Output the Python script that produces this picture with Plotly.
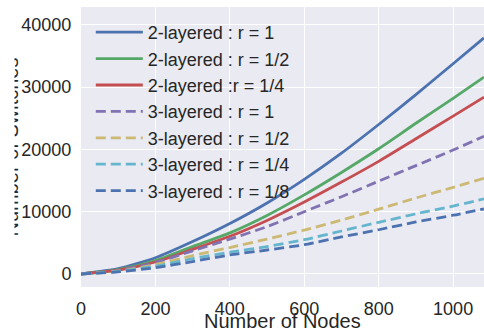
import plotly.graph_objects as go

nodes = [0, 100, 200, 300, 400, 500, 600, 700, 800, 900, 1000, 1083]

two_r1 = [0, 850, 2600, 5200, 8100, 11400, 15200, 19400, 24000, 28800, 33750, 37900]
two_r2 = [0, 680, 2150, 4400, 6600, 9400, 12700, 16300, 20100, 24200, 28200, 31600]
two_r4 = [0, 600, 1920, 3950, 6050, 8600, 11550, 14750, 18080, 21700, 25350, 28400]
three_r1 = [0, 550, 1850, 3700, 5600, 7600, 10000, 12400, 14900, 17400, 19900, 22100]
three_r2 = [0, 450, 1500, 2950, 4250, 5600, 7050, 8650, 10400, 12200, 13900, 15370]
three_r4 = [0, 400, 1250, 2450, 3500, 4400, 5500, 6900, 8300, 9650, 10900, 12050]
three_r8 = [0, 350, 1000, 2000, 3050, 3850, 4700, 5950, 7100, 8350, 9430, 10440]

labels = ["2-layered : r = 1", "2-layered : r = 1/2", "2-layered :r = 1/4",
          "3-layered : r = 1", "3-layered : r = 1/2", "3-layered : r = 1/4",
          "3-layered : r = 1/8"]
series = [two_r1, two_r2, two_r4, three_r1, three_r2, three_r4, three_r8]
colors = ["#4C72B0", "#55A868", "#C44E52", "#8172B2", "#CCB974", "#64B5CD", "#4C72B0"]
dashes = ["solid", "solid", "solid", "10px,5px", "10px,5px", "10px,5px", "10px,5px"]

x_ticks = [0, 200, 400, 600, 800, 1000]
x_tick_text = ["0", "200", "400", "600", "800", "1000"]
y_ticks = [0, 10000, 20000, 30000, 40000]
y_tick_text = ["0", "10000", "20000", "30000", "40000"]

FONT = "Arial, Liberation Sans, sans-serif"
TXT = "#262626"

fig = go.Figure()
for lab, ys, c, d in zip(labels, series, colors, dashes):
    fig.add_trace(go.Scatter(x=nodes, y=ys, name=lab, mode="lines",
                             line=dict(color=c, width=2.8, dash=d, shape="spline", smoothing=0.6)))

fig.update_layout(
    width=484, height=333,
    margin=dict(l=81, r=0, t=7, b=46, pad=0, autoexpand=False),
    paper_bgcolor="white", plot_bgcolor="#EAEAF2",
    font=dict(family=FONT, size=18, color=TXT),
    showlegend=True,
    legend=dict(x=0.0243, y=0.975, xanchor="left", yanchor="top", itemwidth=47,
                bgcolor="rgba(0,0,0,0)", font=dict(size=18, color=TXT)),
    xaxis=dict(range=[0, 1083], tickvals=x_ticks, ticktext=x_tick_text, showgrid=True,
               gridcolor="white", gridwidth=1.3, zeroline=False, showline=False,
               automargin=False,
               ticks="outside", ticklen=5, tickcolor="rgba(0,0,0,0)",
               tickfont=dict(size=18, color=TXT)),
    yaxis=dict(range=[-2090, 42860], tickvals=y_ticks, ticktext=y_tick_text, showgrid=True,
               gridcolor="white", gridwidth=1.3, zeroline=False, showline=False,
               automargin=False,
               ticks="outside", ticklen=5, tickcolor="rgba(0,0,0,0)",
               tickfont=dict(size=18, color=TXT)),
    annotations=[
        dict(text="Number of Nodes", xref="paper", yref="paper", x=0.5, y=-0.079,
             xanchor="center", yanchor="top", showarrow=False, borderpad=0,
             font=dict(size=20, color=TXT)),
        dict(text="Number of Switches", xref="paper", yref="paper",
             x=(10.5 - 81) / 403, y=0.5, xanchor="center", yanchor="middle",
             textangle=-90, showarrow=False, font=dict(size=20, color=TXT)),
        dict(text="", xref="paper", yref="paper", x=(0 - 81) / 403, y=0.5,
             xanchor="left", yanchor="middle", width=13, height=270,
             bgcolor="white", borderpad=0, showarrow=False),
    ],
)

fig.write_html("out.html", config={"displayModeBar": False},
               post_script="document.body.style.margin='0';document.body.style.overflow='hidden';")
